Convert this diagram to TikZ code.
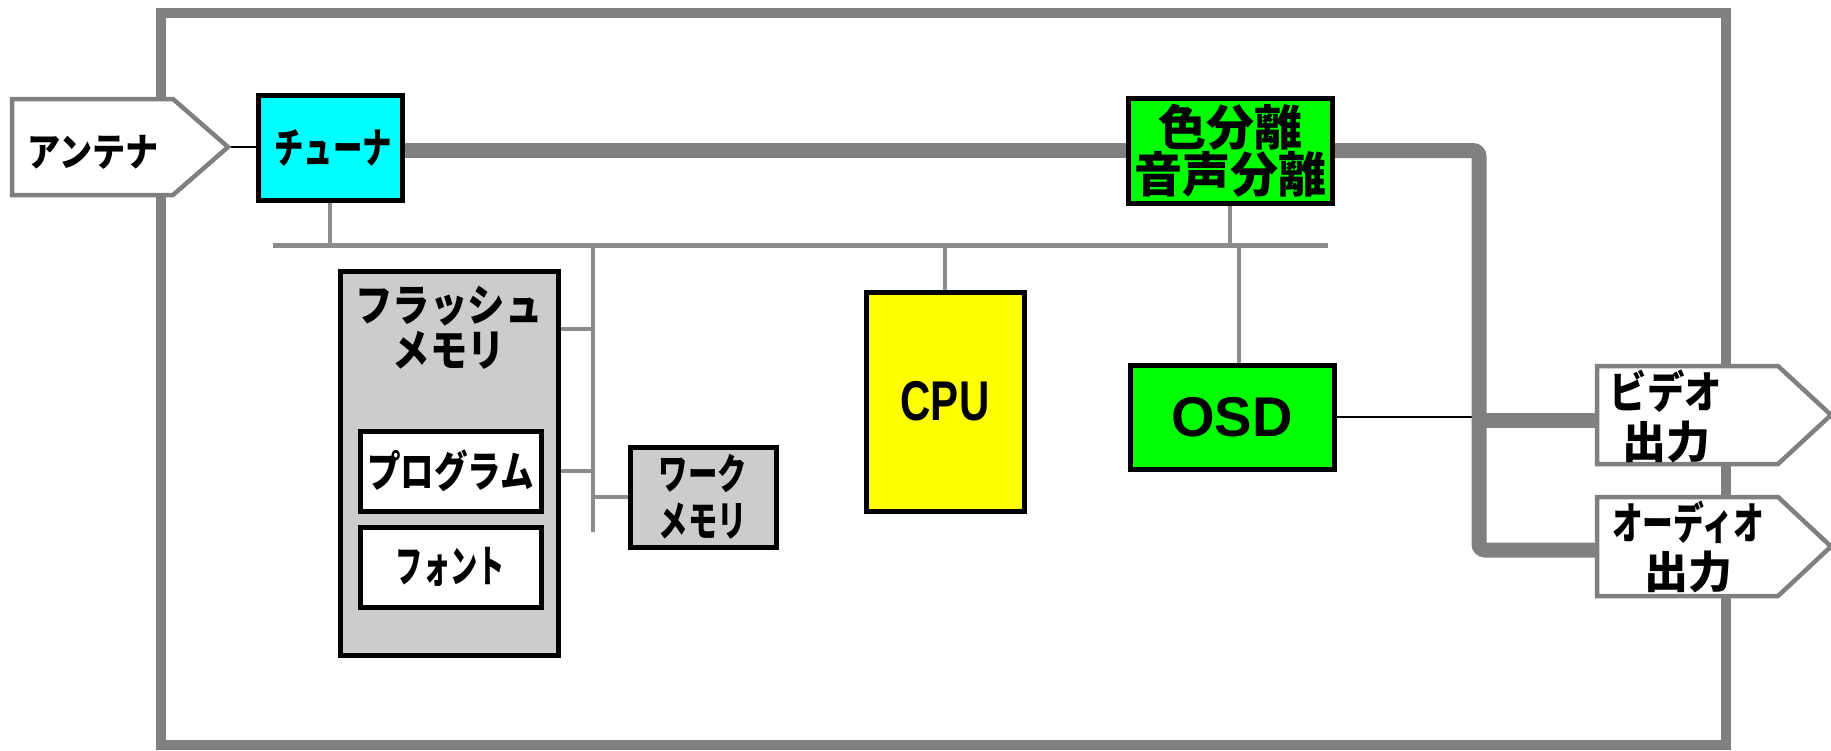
\documentclass[tikz,border=0pt]{standalone}
\usepackage{fontspec}
\newfontfamily\jpa{Noto Sans CJK JP Black}
\newfontfamily\jpb{Noto Sans CJK JP Black}[FakeStretch=0.85]
\newfontfamily\jpc{Noto Sans CJK JP Black}[FakeStretch=0.78]
\newfontfamily\jpd{Noto Sans CJK JP Black}[FakeStretch=0.7]
\newfontfamily\jpe{Noto Sans CJK JP Black}[FakeStretch=0.62]
\newfontfamily\lata{Liberation Sans Bold}
\newfontfamily\latc{Liberation Sans Bold}[FakeStretch=0.75]
\definecolor{frgray}{RGB}{128,128,128}
\definecolor{busgray}{RGB}{140,140,140}
\definecolor{boxgray}{RGB}{204,204,204}
\definecolor{cyanc}{RGB}{0,255,255}
\definecolor{greenc}{RGB}{0,255,0}
\definecolor{yellowc}{RGB}{255,255,0}
\pgfdeclarelayer{bg}
\pgfsetlayers{bg,main}
\begin{document}
\begin{tikzpicture}[x=0.5pt,y=-0.5pt,
  box/.style={draw=black,line width=2.5pt,inner sep=0pt,align=center},
  bus/.style={draw=busgray,line width=2.25pt},
  frame/.style={draw=frgray,line width=5pt},
  sig/.style={draw=frgray,line width=7.5pt,rounded corners=3pt},
  pent/.style={draw=frgray,line width=2.25pt,fill=white,line join=miter},
  lbl/.style={inner sep=0pt,align=center}]
\useasboundingbox (0,0) rectangle (1831,750);

% named reference points
\coordinate (busL) at (273,245.5);
\coordinate (busR) at (1328,245.5);
\coordinate (membusT) at (593,245.5);
\coordinate (membusB) at (593,532);
\coordinate (anttip) at (228,147);
\coordinate (vidin) at (1597,420);
\coordinate (audin) at (1597,550);
\coordinate (sigTR) at (1479,150.5);
\coordinate (sigBL) at (1479,550);

% boxes
\node[box,fill=cyanc,minimum width=72pt,minimum height=52.5pt,
      font={\jpd\fontsize{21pt}{24pt}\selectfont}] (tuner) at (330,147.5) {\hspace{3pt}チューナ};
\node[box,fill=greenc,minimum width=102pt,minimum height=52.5pt,
      font={\jpa\fontsize{24pt}{23.5pt}\selectfont}] (color) at (1230,150.5) {色分離\\音声分離};
\node[box,fill=yellowc,minimum width=79pt,minimum height=109.5pt,
      font={\latc\fontsize{28pt}{30pt}\selectfont}] (cpu) at (945,401.5) {CPU};
\node[box,fill=greenc,minimum width=102pt,minimum height=52pt,
      font={\lata\fontsize{28pt}{30pt}\selectfont}] (osd) at (1232,417) {OSD};
\node[box,fill=boxgray,minimum width=109pt,minimum height=192pt] (flash) at (449,463) {};
\node[box,fill=boxgray,minimum width=73pt,minimum height=50pt,
      font={\jpd\fontsize{21pt}{23.5pt}\selectfont}] (work) at (703,497) {ワーク\\メモリ};

% flash memory contents
\node[lbl,font={\jpb\fontsize{22pt}{22.5pt}\selectfont}] (flashlbl) at (449,328) {フラッシュ\\メモリ};
\node[box,fill=white,minimum width=90.5pt,minimum height=40pt,
      font={\jpc\fontsize{21.5pt}{24pt}\selectfont}] (prog) at (450.5,471) {プログラム};
\node[box,fill=white,minimum width=90.5pt,minimum height=40pt,
      font={\jpe\fontsize{22pt}{24pt}\selectfont}] (fontbox) at (450.5,567) {フォント};

% pentagons (terminals)
\draw[pent] (12,99) -- (173,99) -- (anttip) -- (173,195) -- (12,195) -- cycle;
\node[lbl,font={\jpb\fontsize{19.5pt}{20pt}\selectfont}] (ant) at (93,152) {アンテナ};

\draw[pent] (1597,366) -- (1778,366) -- (1831,415) -- (1778,464) -- (1597,464) -- cycle;
\node[lbl,font={\fontsize{22pt}{25pt}\selectfont}] (video) at (1666,416) {{\jpb ビデオ}\\{\jpa 出力}};

\draw[pent] (1597,497) -- (1778,497) -- (1831,546.5) -- (1778,596) -- (1597,596) -- cycle;
\node[lbl,font={\fontsize{22pt}{24.5pt}\selectfont}] (audio) at (1688,547) {{\jpd オーディオ}\\{\jpa 出力}};

\begin{pgfonlayer}{bg}
% outer frame
\draw[frame] (161,13) rectangle (1726,745);

% thin black connectors
\draw[black,line width=0.9pt] (anttip) -- (anttip -| tuner.west);
\draw[black,line width=0.8pt] (osd.east) -- (osd.east -| vidin);

% control bus
\draw[bus] (busL) -- (busR);
\draw[bus] (tuner.south) -- (tuner.south |- busL);
\draw[bus] (color.south) -- (color.south |- busL);
\draw[bus] (cpu.north) -- (cpu.north |- busL);
\draw[bus] ([xshift=3.5pt]osd.north) -- ([xshift=3.5pt]osd.north |- busL);
\draw[bus] (membusT) -- (membusB);
\draw[bus] ([yshift=67pt]flash.east) -- ([yshift=67pt]flash.east -| membusT);
\draw[bus] (flash.east |- prog.east) -- (prog.east -| membusT);
\draw[bus] (work.west -| membusT) -- (work.west);

% thick signal path
\draw[sig] (tuner.east |- color.west) -- (color.west);
\draw[sig] (color.east) -- (sigTR) -- (sigBL) -- (audin);
\draw[sig] (sigBL |- vidin) -- (vidin);
\end{pgfonlayer}
\end{tikzpicture}
\end{document}
